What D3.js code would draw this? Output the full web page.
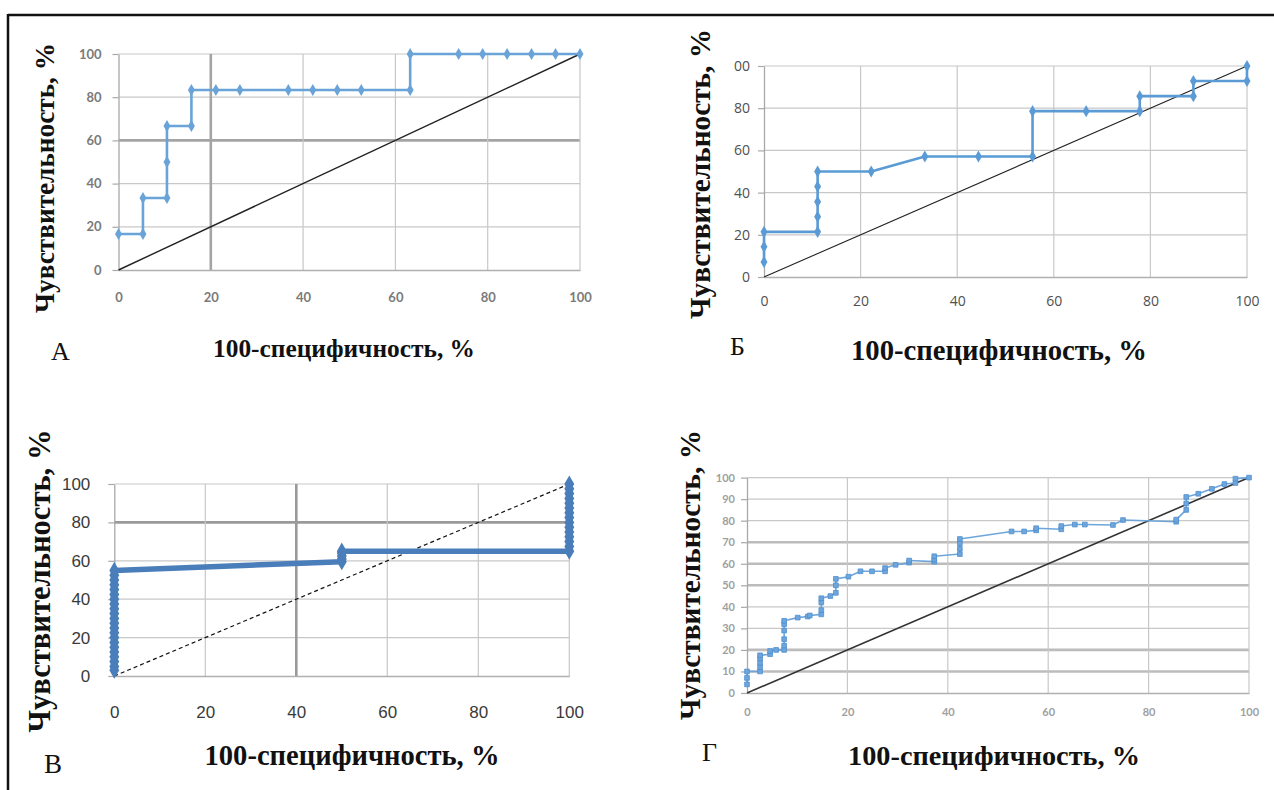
<!DOCTYPE html>
<html>
<head>
<meta charset="utf-8">
<script src="https://cdn.jsdelivr.net/npm/d3@7"></script>
<style>
  html, body { margin: 0; padding: 0; background: #fff; }
  svg { display: block; }
</style>
</head>
<body>
<svg id="chart" width="1274" height="790"></svg>
<script>
// ROC-кривые, четыре панели (А, Б, В, Г)

// Панель А
const fprA = [0, 5.3, 5.3, 10.5, 10.5, 10.5, 15.8, 15.8, 21.1, 26.3, 36.8, 42.1, 47.4, 52.6, 63.2, 63.2, 73.7, 78.9, 84.2, 89.5, 94.7, 100];
const tprA = [16.7, 16.7, 33.3, 33.3, 50, 66.7, 66.7, 83.3, 83.3, 83.3, 83.3, 83.3, 83.3, 83.3, 83.3, 100, 100, 100, 100, 100, 100, 100];

// Панель Б
const fprB = [0, 0, 0, 11.1, 11.1, 11.1, 11.1, 11.1, 22.2, 33.3, 44.4, 55.6, 55.6, 66.7, 77.8, 77.8, 88.9, 88.9, 100, 100];
const tprB = [7.1, 14.3, 21.4, 21.4, 28.6, 35.7, 42.9, 50, 50, 57.1, 57.1, 57.1, 78.6, 78.6, 78.6, 85.7, 85.7, 92.9, 92.9, 100];

// Панель В
const fprV = [0, 0, 0, 0, 0, 0, 0, 0, 0, 0, 0, 0, 0, 0, 0, 0, 0, 0, 0, 0, 0, 0,
              50, 50, 50, 50, 50,
              100, 100, 100, 100, 100, 100, 100, 100, 100, 100, 100, 100, 100, 100, 100];
const tprV = [3, 5, 7.5, 10, 12.5, 15, 17.5, 20, 22.5, 25, 27.5, 30, 32.5, 35, 37.5, 40, 42.5, 45, 47.5, 50, 52.5, 55,
              59.5, 61, 62.5, 64, 65,
              65, 67.5, 70, 72.5, 75, 77.5, 80, 82.5, 85, 87.5, 90, 92.5, 95, 97.5, 100];

// Панель Г
const fprG = [0, 0, 0, 2.6, 2.6, 2.6, 2.6, 2.6, 4.6, 4.6, 5.8, 7.4, 7.4, 7.4, 7.4, 7.4, 7.4, 10.1, 12.1, 12.5, 14.8, 14.8, 14.8, 14.8,
              16.6, 17.7, 17.7, 17.7, 20.2, 22.6, 24.9, 27.5, 27.5, 29.6, 32.3, 32.3, 37.3, 37.3, 37.3, 42.4, 42.4, 42.4, 42.4,
              52.7, 55.2, 57.6, 57.6, 62.6, 62.6, 65.3, 67.3, 72.9, 74.9, 85.5, 85.5, 87.5, 87.5, 87.5, 89.9, 92.6, 95.1, 97.3, 97.3, 100];
const tprG = [4, 7, 10, 10, 12, 14, 16, 17.5, 18, 19.5, 20, 20, 22, 25, 29, 32, 33.5, 35, 35.5, 36, 36.5, 38.5, 42, 44,
              45, 46.5, 50, 53, 54, 56.5, 56.5, 56.5, 58, 59.5, 60.5, 61.5, 61, 62, 63.5, 64.5, 67, 69.5, 71.5,
              75, 75, 75.5, 76.5, 76, 77.5, 78.2, 78.2, 78, 80.3, 79.5, 80.5, 85, 88, 91, 92.5, 94.8, 97, 97.5, 99.5, 100];

// Линия случайной классификации
const diagX = [0, 100];
const diagY = [0, 100];

// Подписи осей
const xTicks = [0, 20, 40, 60, 80, 100];
const xTickLabels = ['0', '20', '40', '60', '80', '100'];
const yTicks = [0, 20, 40, 60, 80, 100];
const yTickLabels = ['0', '20', '40', '60', '80', '100'];
const yTickLabelsB = ['0', '20', '40', '60', '80', '00'];
const yTicksG = [0, 10, 20, 30, 40, 50, 60, 70, 80, 90, 100];
const yTickLabelsG = ['0', '10', '20', '30', '40', '50', '60', '70', '80', '90', '100'];

const yTitle = 'Чувствительность, %';
const xTitle = '100-специфичность, %';
const panelLetters = ['А', 'Б', 'В', 'Г'];

const SERIF = '"Liberation Serif", "DejaVu Serif", serif';

const svg = d3.select('#chart');

// рамка
svg.append('line').attr('x1', 8).attr('x2', 1274).attr('y1', 15).attr('y2', 15)
  .attr('stroke', '#111').attr('stroke-width', 2.5);
svg.append('line').attr('x1', 8).attr('x2', 8).attr('y1', 14).attr('y2', 790)
  .attr('stroke', '#111').attr('stroke-width', 2.5);

// span — желаемая длина надписи в пикселях
const panels = [
  {
    fx: fprA, fy: tprA, xr: [118.5, 580], yr: [270, 54],
    yTicks: yTicks, yLabels: yTickLabels, heavyY: [60], heavyX: [20], heavyColor: '#a4a4a4',
    tickFont: '"Lato", "Open Sans", sans-serif', tickSize: 13, tickColor: '#7a7a7a', tickWeight: 'bold',
    yPad: 11, xPad: 23,
    line: '#6aa3d8', lineWidth: 2.6, marker: 'diamond', markerSize: 42,
    diag: { color: '#222', width: 1.4, dash: null },
    yT: { x: 45, y: 178, span: 270 }, xT: { x: 344, y: 357, span: 262 }, letter: { x: 51, y: 360, fs: 26 }
  },
  {
    fx: fprB, fy: tprB, xr: [764, 1247], yr: [277, 66],
    yTicks: yTicks, yLabels: yTickLabelsB, heavyY: [], heavyX: [], heavyColor: '#a4a4a4',
    tickFont: '"Open Sans", "Lato", sans-serif', tickSize: 14, tickColor: '#505050', tickWeight: 'normal',
    yPad: 8, xPad: 19,
    line: '#5b9bd5', lineWidth: 2.6, marker: 'diamond', markerSize: 42,
    diag: { color: '#222', width: 1.1, dash: null },
    yT: { x: 700, y: 174, span: 290 }, xT: { x: 999, y: 360, span: 296 }, letter: { x: 730, y: 355, fs: 26 }
  },
  {
    fx: fprV, fy: tprV, xr: [114.3, 569.3], yr: [676, 484],
    yTicks: yTicks, yLabels: yTickLabels, heavyY: [80], heavyX: [40], heavyColor: '#9a9a9a',
    tickFont: '"Liberation Sans Narrow", "Liberation Sans", sans-serif', tickSize: 17, tickColor: '#3a3a3a', tickWeight: 'normal',
    yPad: 18, xPad: 30,
    line: '#4a7ebb', lineWidth: 5.5, marker: 'diamond', markerSize: 85,
    diag: { color: '#111', width: 1.2, dash: '4,3' },
    yT: { x: 40, y: 581, span: 303 }, xT: { x: 352, y: 765, span: 295 }, letter: { x: 44, y: 773, fs: 27 }
  },
  {
    fx: fprG, fy: tprG, xr: [747, 1249], yr: [693, 477.6],
    yTicks: yTicksG, yLabels: yTickLabelsG, heavyY: [10, 20, 50, 60, 70], heavyX: [], heavyColor: '#bcbcbc',
    tickFont: '"Lato", "Open Sans", sans-serif', tickSize: 11, tickColor: '#a0a0a0', tickWeight: 'bold',
    yPad: 6, xPad: 15,
    line: '#6ea6dc', lineWidth: 1.6, marker: 'square', markerSize: 22,
    diag: { color: '#333', width: 1.6, dash: null },
    yT: { x: 690, y: 575, span: 290 }, xT: { x: 994, y: 765, span: 292 }, letter: { x: 702, y: 761, fs: 26 }
  }
];

// подгонка размера шрифта под нужную длину
function fitText(sel, span) {
  const base = 20;
  sel.style('font-size', base + 'px');
  const len = sel.node().getComputedTextLength();
  sel.style('font-size', (base * span / len).toFixed(2) + 'px');
}

function drawPanel(p, idx) {
  const x = d3.scaleLinear().domain([0, 100]).range(p.xr);
  const y = d3.scaleLinear().domain([0, 100]).range(p.yr);
  const g = svg.append('g').attr('class', 'panel-' + idx);

  // сетка
  g.selectAll('line.hgrid')
    .data(p.yTicks.filter(d => d > 0))
    .join('line')
    .attr('class', 'hgrid')
    .attr('x1', x(0)).attr('x2', x(100))
    .attr('y1', d => y(d)).attr('y2', d => y(d))
    .attr('stroke', d => p.heavyY.includes(d) ? p.heavyColor : '#c8c8c8')
    .attr('stroke-width', d => p.heavyY.includes(d) ? 2.6 : 1.2);

  g.selectAll('line.vgrid')
    .data(xTicks.filter(d => d > 0))
    .join('line')
    .attr('class', 'vgrid')
    .attr('y1', y(0)).attr('y2', y(100))
    .attr('x1', d => x(d)).attr('x2', d => x(d))
    .attr('stroke', d => p.heavyX.includes(d) ? p.heavyColor : '#c8c8c8')
    .attr('stroke-width', d => p.heavyX.includes(d) ? 2.6 : 1.2);

  // ось X (линия 0) и подписи
  const xAxis = d3.axisBottom(x)
    .tickValues(xTicks)
    .tickFormat((d, i) => xTickLabels[i])
    .tickSize(0)
    .tickPadding(p.xPad);
  const gx = g.append('g').attr('transform', `translate(0,${y(0)})`).call(xAxis);
  gx.select('.domain').attr('stroke', '#b0b0b0').attr('stroke-width', 1.3);

  // ось Y
  const yAxis = d3.axisLeft(y)
    .tickValues(p.yTicks)
    .tickFormat((d, i) => p.yLabels[i])
    .tickSize(6)
    .tickSizeOuter(0)
    .tickPadding(p.yPad);
  const gy = g.append('g').attr('transform', `translate(${x(0)},0)`).call(yAxis);
  gy.select('.domain').attr('stroke', '#a8a8a8').attr('stroke-width', 1.3);
  gy.selectAll('.tick line').attr('stroke', '#a8a8a8').attr('stroke-width', 1.2);

  [gx, gy].forEach(a => a.selectAll('text')
    .attr('fill', p.tickColor)
    .style('font-family', p.tickFont)
    .style('font-size', p.tickSize + 'px')
    .style('font-weight', p.tickWeight));

  // диагональ
  const diagLine = d3.line().x(d => x(d[0])).y(d => y(d[1]));
  g.append('path')
    .datum(diagX.map((v, i) => [v, diagY[i]]))
    .attr('d', diagLine)
    .attr('fill', 'none')
    .attr('stroke', p.diag.color)
    .attr('stroke-width', p.diag.width)
    .attr('stroke-dasharray', p.diag.dash);

  // ROC-кривая
  const pts = p.fx.map((v, i) => [v, p.fy[i]]);
  const rocLine = d3.line().x(d => x(d[0])).y(d => y(d[1]));
  g.append('path')
    .datum(pts)
    .attr('d', rocLine)
    .attr('fill', 'none')
    .attr('stroke', p.line)
    .attr('stroke-width', p.lineWidth)
    .attr('stroke-linejoin', 'round');

  const sym = d3.symbol()
    .type(p.marker === 'square' ? d3.symbolSquare : d3.symbolDiamond)
    .size(p.markerSize);
  g.selectAll('path.marker')
    .data(pts)
    .join('path')
    .attr('class', 'marker')
    .attr('d', sym)
    .attr('transform', d => `translate(${x(d[0])},${y(d[1])})`)
    .attr('fill', p.line)
    .attr('stroke', p.marker === 'square' ? '#4f8fcf' : 'none')
    .attr('stroke-width', 0.8);

  // заголовки осей
  const yt = g.append('text')
    .attr('transform', `translate(${p.yT.x},${p.yT.y}) rotate(-90)`)
    .attr('text-anchor', 'middle')
    .attr('dominant-baseline', 'central')
    .style('font-family', SERIF)
    .style('font-weight', 'bold')
    .attr('fill', '#111')
    .text(yTitle);
  fitText(yt, p.yT.span);

  const xt = g.append('text')
    .attr('x', p.xT.x).attr('y', p.xT.y)
    .attr('text-anchor', 'middle')
    .style('font-family', SERIF)
    .style('font-weight', 'bold')
    .attr('fill', '#111')
    .text(xTitle);
  fitText(xt, p.xT.span);

  g.append('text')
    .attr('x', p.letter.x).attr('y', p.letter.y)
    .style('font-family', SERIF)
    .style('font-size', p.letter.fs + 'px')
    .attr('fill', '#111')
    .text(panelLetters[idx]);
}

panels.forEach(drawPanel);
</script>
</body>
</html>
